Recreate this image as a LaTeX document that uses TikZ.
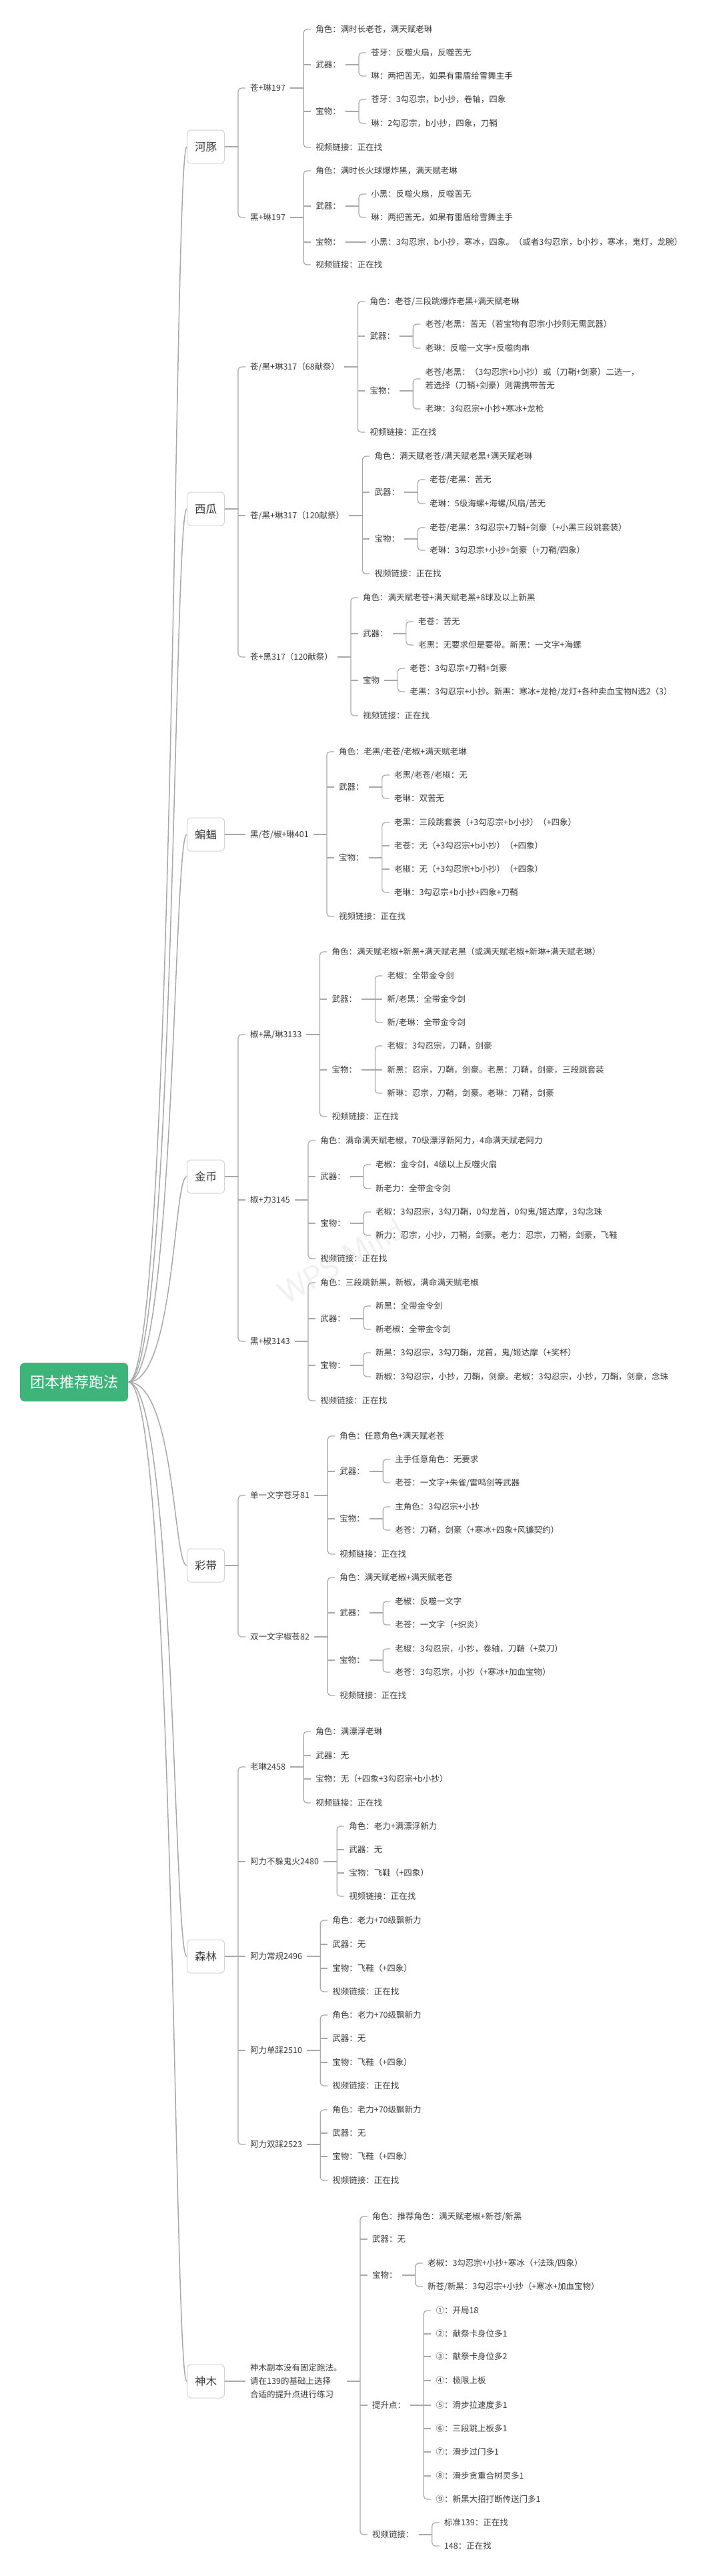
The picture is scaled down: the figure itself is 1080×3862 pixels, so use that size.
\documentclass[tikz,border=0pt]{standalone}
\usepackage{fontspec}
\newfontfamily\cjk{Noto Sans CJK SC}
\definecolor{txt}{HTML}{3A3A3A}
\definecolor{linec}{HTML}{A8A8A8}
\definecolor{boxc}{HTML}{D4D4D4}
\definecolor{rootc}{HTML}{3DB57A}
\tikzset{
 t/.style={anchor=west, inner xsep=7pt, inner ysep=2pt, text=txt, align=left, font=\cjk\fontsize{12.5}{20}\selectfont},
 lvbox/.style={anchor=west, draw=boxc, line width=1pt, rounded corners=6pt, fill=white, minimum width=56pt, minimum height=50pt, inner sep=0pt, text=txt, font=\cjk\fontsize{16.5}{20}\selectfont},
 rootbox/.style={fill=rootc, text=white, rounded corners=7pt, minimum width=162pt, minimum height=58pt, font=\cjk\fontsize{22}{26}\selectfont},
 conn/.style={draw=linec, line width=1.2pt},
 pconn/.style={draw=linec, line width=1.8pt},
 curv/.style={draw=linec, line width=1.5pt},
}
\newcommand\kid[4][]{\node[t,xshift=31pt,#1] (#3) at (#2.east |- 0,#4)}
\newcommand\fork[3]{\draw[pconn] (#1.east) -- ++(20pt,0) coordinate (sp);
  \draw[conn,rounded corners=5pt] (#2.west) -- (#2.west -| sp) -- (#3.west -| sp) -- (#3.west);}
\newcommand\tk[1]{\draw[conn] (#1.west -| sp) -- (#1.west);}
\newcommand\lnk[2]{\draw[pconn] (#1.east) -- (#2.west);}
\begin{document}
\begin{tikzpicture}[x=1pt,y=-1pt]
\useasboundingbox (0,0) rectangle (1080,3862);
\fill[white] (0,0) rectangle (1080,3862);
\node[rotate=30, text=black!6, font=\fontsize{48}{50}\selectfont\sffamily] (wm) at (511,1890) {WPS Mind};
% root and level 1
\node[rootbox] (R) at (111,2072) {团本推荐跑法};
\node[lvbox] (A) at (280,220) {河豚};
\node[lvbox] (B) at (280,763) {西瓜};
\node[lvbox] (C) at (280,1251) {蝙蝠};
\node[lvbox] (D) at (280,1764) {金币};
\node[lvbox] (E) at (280,2347) {彩带};
\node[lvbox] (F) at (280,2933) {森林};
\node[lvbox] (G) at (280,3570) {神木};
\foreach \n in {A,B,C,D,E,F,G}
  \draw[curv] (R.east) .. controls +(70pt,0) and +(-20pt,0) .. (\n.west);
% ===== 河豚
\kid{A}{A1}{132}{苍+琳197};
\kid{A1}{A1a}{44}{角色：满时长老苍，满天赋老琳};
\kid{A1}{A1b}{97}{武器：};
\kid{A1b}{A1b1}{79}{苍牙：反噬火扇，反噬苦无};
\kid{A1b}{A1b2}{114}{琳：两把苦无，如果有雷盾给雪舞主手};
\kid{A1}{A1c}{167}{宝物：};
\kid{A1c}{A1c1}{149}{苍牙：3勾忍宗，b小抄，卷轴，四象};
\kid{A1c}{A1c2}{185}{琳：2勾忍宗，b小抄，四象，刀鞘};
\kid{A1}{A1d}{221}{视频链接：正在找};
\kid{A}{A2}{326}{黑+琳197};
\kid{A2}{A2a}{256}{角色：满时长火球爆炸黑，满天赋老琳};
\kid{A2}{A2b}{309}{武器：};
\kid{A2b}{A2b1}{291}{小黑：反噬火扇，反噬苦无};
\kid{A2b}{A2b2}{326}{琳：两把苦无，如果有雷盾给雪舞主手};
\kid{A2}{A2c}{363}{宝物：};
\kid{A2c}{A2c1}{363}{小黑：3勾忍宗，b小抄，寒冰，四象。（或者3勾忍宗，b小抄，寒冰，鬼灯，龙腕）};
\kid{A2}{A2d}{397}{视频链接：正在找};
\fork{A}{A1}{A2}
\fork{A1}{A1a}{A1d}\tk{A1b}\tk{A1c}
\fork{A1b}{A1b1}{A1b2}
\fork{A1c}{A1c1}{A1c2}
\fork{A2}{A2a}{A2d}\tk{A2b}\tk{A2c}
\fork{A2b}{A2b1}{A2b2}
\lnk{A2c}{A2c1}
% ===== 西瓜
\kid{B}{B1}{550}{苍/黑+琳317（68献祭）};
\kid{B1}{B1a}{452}{角色：老苍/三段跳爆炸老黑+满天赋老琳};
\kid{B1}{B1b}{504}{武器：};
\kid{B1b}{B1b1}{486}{老苍/老黑：苦无（若宝物有忍宗小抄则无需武器）};
\kid{B1b}{B1b2}{522}{老琳：反噬一文字+反噬肉串};
\kid{B1}{B1c}{586}{宝物：};
\kid{B1c}{B1c1}{568}{老苍/老黑：（3勾忍宗+b小抄）或（刀鞘+剑豪）二选一，\\若选择（刀鞘+剑豪）则需携带苦无};
\kid{B1c}{B1c2}{613}{老琳：3勾忍宗+小抄+寒冰+龙枪};
\kid{B1}{B1d}{648}{视频链接：正在找};
\kid{B}{B2}{773}{苍/黑+琳317（120献祭）};
\kid{B2}{B2a}{684}{角色：满天赋老苍/满天赋老黑+满天赋老琳};
\kid{B2}{B2b}{738}{武器：};
\kid{B2b}{B2b1}{719}{老苍/老黑：苦无};
\kid{B2b}{B2b2}{755}{老琳：5级海螺+海螺/风扇/苦无};
\kid{B2}{B2c}{808}{宝物：};
\kid{B2c}{B2c1}{791}{老苍/老黑：3勾忍宗+刀鞘+剑豪（+小黑三段跳套装）};
\kid{B2c}{B2c2}{825}{老琳：3勾忍宗+小抄+剑豪（+刀鞘/四象）};
\kid{B2}{B2d}{860}{视频链接：正在找};
\kid{B}{B3}{985}{苍+黑317（120献祭）};
\kid{B3}{B3a}{896}{角色：满天赋老苍+满天赋老黑+8球及以上新黑};
\kid{B3}{B3b}{950}{武器：};
\kid{B3b}{B3b1}{932}{老苍：苦无};
\kid{B3b}{B3b2}{967}{老黑：无要求但是要带。新黑：一文字+海螺};
\kid{B3}{B3c}{1020}{宝物};
\kid{B3c}{B3c1}{1002}{老苍：3勾忍宗+刀鞘+剑豪};
\kid{B3c}{B3c2}{1037}{老黑：3勾忍宗+小抄。新黑：寒冰+龙枪/龙灯+各种卖血宝物N选2（3）};
\kid{B3}{B3d}{1073}{视频链接：正在找};
\fork{B}{B1}{B3}\tk{B2}
\fork{B1}{B1a}{B1d}\tk{B1b}\tk{B1c}
\fork{B1b}{B1b1}{B1b2}
\fork{B1c}{B1c1}{B1c2}
\fork{B2}{B2a}{B2d}\tk{B2b}\tk{B2c}
\fork{B2b}{B2b1}{B2b2}
\fork{B2c}{B2c1}{B2c2}
\fork{B3}{B3a}{B3d}\tk{B3b}\tk{B3c}
\fork{B3b}{B3b1}{B3b2}
\fork{B3c}{B3c1}{B3c2}
% ===== 蝙蝠
\kid{C}{C1}{1251}{黑/苍/椒+琳401};
\kid{C1}{C1a}{1127}{角色：老黑/老苍/老椒+满天赋老琳};
\kid{C1}{C1b}{1180}{武器：};
\kid{C1b}{C1b1}{1162}{老黑/老苍/老椒：无};
\kid{C1b}{C1b2}{1197}{老琳：双苦无};
\kid{C1}{C1c}{1286}{宝物：};
\kid{C1c}{C1c1}{1233}{老黑：三段跳套装（+3勾忍宗+b小抄）（+四象）};
\kid{C1c}{C1c2}{1268}{老苍：无（+3勾忍宗+b小抄）（+四象）};
\kid{C1c}{C1c3}{1303}{老椒：无（+3勾忍宗+b小抄）（+四象）};
\kid{C1c}{C1c4}{1338}{老琳：3勾忍宗+b小抄+四象+刀鞘};
\kid{C1}{C1d}{1374}{视频链接：正在找};
\lnk{C}{C1}
\fork{C1}{C1a}{C1d}\tk{C1b}\tk{C1c}
\fork{C1b}{C1b1}{C1b2}
\fork{C1c}{C1c1}{C1c4}\tk{C1c2}\tk{C1c3}
% ===== 金币
\kid{D}{D1}{1551}{椒+黑/琳3133};
\kid{D1}{D1a}{1427}{角色：满天赋老椒+新黑+满天赋老黑（或满天赋老椒+新琳+满天赋老琳）};
\kid{D1}{D1b}{1498}{武器：};
\kid{D1b}{D1b1}{1463}{老椒：全带金令剑};
\kid{D1b}{D1b2}{1498}{新/老黑：全带金令剑};
\kid{D1b}{D1b3}{1533}{新/老琳：全带金令剑};
\kid{D1}{D1c}{1604}{宝物：};
\kid{D1c}{D1c1}{1568}{老椒：3勾忍宗，刀鞘，剑豪};
\kid{D1c}{D1c2}{1604}{新黑：忍宗，刀鞘，剑豪。老黑：刀鞘，剑豪，三段跳套装};
\kid{D1c}{D1c3}{1639}{新琳：忍宗，刀鞘，剑豪。老琳：刀鞘，剑豪};
\kid{D1}{D1d}{1674}{视频链接：正在找};
\kid{D}{D2}{1799}{椒+力3145};
\kid{D2}{D2a}{1710}{角色：满命满天赋老椒，70级漂浮新阿力，4命满天赋老阿力};
\kid{D2}{D2b}{1764}{武器：};
\kid{D2b}{D2b1}{1746}{老椒：金令剑，4级以上反噬火扇};
\kid{D2b}{D2b2}{1782}{新老力：全带金令剑};
\kid{D2}{D2c}{1834}{宝物：};
\kid{D2c}{D2c1}{1817}{老椒：3勾忍宗，3勾刀鞘，0勾龙首，0勾鬼/姬达摩，3勾念珠};
\kid{D2c}{D2c2}{1852}{新力：忍宗，小抄，刀鞘，剑豪。老力：忍宗，刀鞘，剑豪，飞鞋};
\kid{D2}{D2d}{1887}{视频链接：正在找};
\kid{D}{D3}{2011}{黑+椒3143};
\kid{D3}{D3a}{1923}{角色：三段跳新黑，新椒，满命满天赋老椒};
\kid{D3}{D3b}{1977}{武器：};
\kid{D3b}{D3b1}{1958}{新黑：全带金令剑};
\kid{D3b}{D3b2}{1993}{新老椒：全带金令剑};
\kid{D3}{D3c}{2047}{宝物：};
\kid{D3c}{D3c1}{2028}{新黑：3勾忍宗，3勾刀鞘，龙首，鬼/姬达摩（+奖杯）};
\kid{D3c}{D3c2}{2064}{新椒：3勾忍宗，小抄，刀鞘，剑豪。老椒：3勾忍宗，小抄，刀鞘，剑豪，念珠};
\kid{D3}{D3d}{2100}{视频链接：正在找};
\fork{D}{D1}{D3}\tk{D2}
\fork{D1}{D1a}{D1d}\tk{D1b}\tk{D1c}
\fork{D1b}{D1b1}{D1b3}\tk{D1b2}
\fork{D1c}{D1c1}{D1c3}\tk{D1c2}
\fork{D2}{D2a}{D2d}\tk{D2b}\tk{D2c}
\fork{D2b}{D2b1}{D2b2}
\fork{D2c}{D2c1}{D2c2}
\fork{D3}{D3a}{D3d}\tk{D3b}\tk{D3c}
\fork{D3b}{D3b1}{D3b2}
\fork{D3c}{D3c1}{D3c2}
% ===== 彩带
\kid{E}{E1}{2242}{单一文字苍牙81};
\kid{E1}{E1a}{2153}{角色：任意角色+满天赋老苍};
\kid{E1}{E1b}{2206}{武器：};
\kid{E1b}{E1b1}{2188}{主手任意角色：无要求};
\kid{E1b}{E1b2}{2223}{老苍：一文字+朱雀/雷鸣剑等武器};
\kid{E1}{E1c}{2277}{宝物：};
\kid{E1c}{E1c1}{2259}{主角色：3勾忍宗+小抄};
\kid{E1c}{E1c2}{2294}{老苍：刀鞘，剑豪（+寒冰+四象+风镰契约）};
\kid{E1}{E1d}{2330}{视频链接：正在找};
\kid{E}{E2}{2454}{双一文字椒苍82};
\kid{E2}{E2a}{2365}{角色：满天赋老椒+满天赋老苍};
\kid{E2}{E2b}{2418}{武器：};
\kid{E2b}{E2b1}{2401}{老椒：反噬一文字};
\kid{E2b}{E2b2}{2436}{老苍：一文字（+织炎）};
\kid{E2}{E2c}{2489}{宝物：};
\kid{E2c}{E2c1}{2472}{老椒：3勾忍宗，小抄，卷轴，刀鞘（+菜刀）};
\kid{E2c}{E2c2}{2507}{老苍：3勾忍宗，小抄（+寒冰+加血宝物）};
\kid{E2}{E2d}{2542}{视频链接：正在找};
\fork{E}{E1}{E2}
\fork{E1}{E1a}{E1d}\tk{E1b}\tk{E1c}
\fork{E1b}{E1b1}{E1b2}
\fork{E1c}{E1c1}{E1c2}
\fork{E2}{E2a}{E2d}\tk{E2b}\tk{E2c}
\fork{E2b}{E2b1}{E2b2}
\fork{E2c}{E2c1}{E2c2}
% ===== 森林
\kid{F}{F1}{2649}{老琳2458};
\kid{F1}{F1a}{2596}{角色：满漂浮老琳};
\kid{F1}{F1b}{2632}{武器：无};
\kid{F1}{F1c}{2667}{宝物：无（+四象+3勾忍宗+b小抄）};
\kid{F1}{F1d}{2703}{视频链接：正在找};
\kid{F}{F2}{2791}{阿力不躲鬼火2480};
\kid{F2}{F2a}{2738}{角色：老力+满漂浮新力};
\kid{F2}{F2b}{2773}{武器：无};
\kid{F2}{F2c}{2808}{宝物：飞鞋（+四象）};
\kid{F2}{F2d}{2843}{视频链接：正在找};
\kid{F}{F3}{2933}{阿力常规2496};
\kid{F3}{F3a}{2879}{角色：老力+70级飘新力};
\kid{F3}{F3b}{2915}{武器：无};
\kid{F3}{F3c}{2951}{宝物：飞鞋（+四象）};
\kid{F3}{F3d}{2986}{视频链接：正在找};
\kid{F}{F4}{3074}{阿力单踩2510};
\kid{F4}{F4a}{3021}{角色：老力+70级飘新力};
\kid{F4}{F4b}{3056}{武器：无};
\kid{F4}{F4c}{3092}{宝物：飞鞋（+四象）};
\kid{F4}{F4d}{3127}{视频链接：正在找};
\kid{F}{F5}{3215}{阿力双踩2523};
\kid{F5}{F5a}{3163}{角色：老力+70级飘新力};
\kid{F5}{F5b}{3198}{武器：无};
\kid{F5}{F5c}{3233}{宝物：飞鞋（+四象）};
\kid{F5}{F5d}{3269}{视频链接：正在找};
\fork{F}{F1}{F5}\tk{F2}\tk{F3}\tk{F4}
\fork{F1}{F1a}{F1d}\tk{F1b}\tk{F1c}
\fork{F2}{F2a}{F2d}\tk{F2b}\tk{F2c}
\fork{F3}{F3a}{F3d}\tk{F3b}\tk{F3c}
\fork{F4}{F4a}{F4d}\tk{F4b}\tk{F4c}
\fork{F5}{F5a}{F5d}\tk{F5b}\tk{F5c}
% ===== 神木
\kid{G}{G1}{3570}{神木副本没有固定跑法。\\请在139的基础上选择\\合适的提升点进行练习};
\kid{G1}{G1a}{3323}{角色：推荐角色：满天赋老椒+新苍/新黑};
\kid{G1}{G1b}{3357}{武器：无};
\kid{G1}{G1c}{3411}{宝物：};
\kid{G1c}{G1c1}{3393}{老椒：3勾忍宗+小抄+寒冰（+法珠/四象）};
\kid{G1c}{G1c2}{3428}{新苍/新黑：3勾忍宗+小抄（+寒冰+加血宝物）};
\kid{G1}{G1d}{3606}{提升点：};
\kid{G1d}{G1d1}{3464}{①：开局18};
\kid{G1d}{G1d2}{3499}{②：献祭卡身位多1};
\kid{G1d}{G1d3}{3533}{③：献祭卡身位多2};
\kid{G1d}{G1d4}{3569}{④：极限上板};
\kid{G1d}{G1d5}{3606}{⑤：滑步拉速度多1};
\kid{G1d}{G1d6}{3641}{⑥：三段跳上板多1};
\kid{G1d}{G1d7}{3676}{⑦：滑步过门多1};
\kid{G1d}{G1d8}{3712}{⑧：滑步贪重合树灵多1};
\kid{G1d}{G1d9}{3747}{⑨：新黑大招打断传送门多1};
\kid{G1}{G1e}{3800}{视频链接：};
\kid{G1e}{G1e1}{3782}{标准139：正在找};
\kid{G1e}{G1e2}{3817}{148：正在找};
\lnk{G}{G1}
\fork{G1}{G1a}{G1e}\tk{G1b}\tk{G1c}\tk{G1d}
\fork{G1c}{G1c1}{G1c2}
\fork{G1d}{G1d1}{G1d9}\tk{G1d2}\tk{G1d3}\tk{G1d4}\tk{G1d5}\tk{G1d6}\tk{G1d7}\tk{G1d8}
\fork{G1e}{G1e1}{G1e2}
\end{tikzpicture}
\end{document}
